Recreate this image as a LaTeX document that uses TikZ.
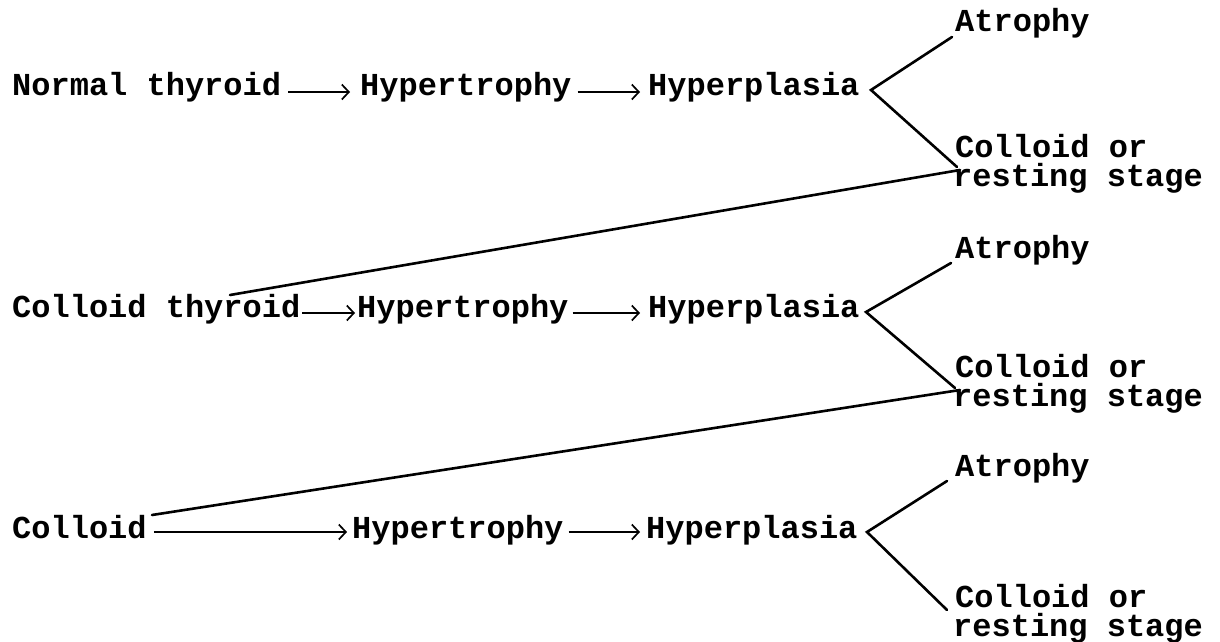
\documentclass[tikz,border=0pt]{standalone}
\usepackage{fontspec}
\setmonofont{Liberation Mono}
\usetikzlibrary{arrows.meta}
\begin{document}
\begin{tikzpicture}[x=1pt,y=-1pt,
  lbl/.style={font=\ttfamily\bfseries\fontsize{32}{26}\selectfont, inner sep=0pt, anchor=base west},
  flow/.style={line width=1.6pt, -{Straight Barb[length=7pt,width=15pt,line width=1.7pt]}},
  branch/.style={line width=2.6pt, line cap=round}]
\useasboundingbox (0,0) rectangle (1220,642);
% row 1
\node[lbl] (n1) at (12,95) {Normal thyroid};
\node[lbl] (h1) at (360,95) {Hypertrophy};
\node[lbl] (p1) at (648,95) {Hyperplasia};
\node[lbl] (at1) at (955,32) {Atrophy};
\node[lbl] (co1) at (955,157) {Colloid or};
\node[lbl] (rs1) at (953,186) {resting stage};
\coordinate (v1) at (871,90);
% row 2
\node[lbl] (n2) at (12,317) {Colloid thyroid};
\node[lbl] (h2) at (357,317) {Hypertrophy};
\node[lbl] (p2) at (648,317) {Hyperplasia};
\node[lbl] (at2) at (955,258) {Atrophy};
\node[lbl] (co2) at (955,377) {Colloid or};
\node[lbl] (rs2) at (953,406) {resting stage};
\coordinate (v2) at (866,312);
\coordinate (t2) at (230,295);
% row 3
\node[lbl] (n3) at (12,538) {Colloid};
\node[lbl] (h3) at (352,538) {Hypertrophy};
\node[lbl] (p3) at (646,538) {Hyperplasia};
\node[lbl] (at3) at (955,476) {Atrophy};
\node[lbl] (co3) at (955,607) {Colloid or};
\node[lbl] (rs3) at (953,636) {resting stage};
\coordinate (v3) at (867,532);
\coordinate (t3) at (152,515);
% flow arrows
\draw[flow] ([xshift=7pt,yshift=3pt]n1.base east) -- ([xshift=-10pt,yshift=3pt]h1.base west);
\draw[flow] ([xshift=6pt,yshift=3pt]h1.base east) -- ([xshift=-8pt,yshift=3pt]p1.base west);
\draw[flow] ([xshift=2pt,yshift=4pt]n2.base east) -- ([xshift=-2pt,yshift=4pt]h2.base west);
\draw[flow] ([xshift=4pt,yshift=4pt]h2.base east) -- ([xshift=-8pt,yshift=4pt]p2.base west);
\draw[flow] ([xshift=7pt,yshift=6pt]n3.base east) -- ([xshift=-5pt,yshift=6pt]h3.base west);
\draw[flow] ([xshift=5pt,yshift=6pt]h3.base east) -- ([xshift=-6pt,yshift=6pt]p3.base west);
% branches
\draw[branch] ([xshift=-3pt,yshift=-5pt]at1.base west) -- (v1) -- ([xshift=2pt,yshift=-10pt]co1.base west);
\draw[branch] ([xshift=-4pt,yshift=-5pt]at2.base west) -- (v2) -- ([xshift=0pt,yshift=-11pt]co2.base west);
\draw[branch] ([xshift=-8pt,yshift=-5pt]at3.base west) -- (v3) -- ([xshift=-8pt,yshift=-3pt]co3.base west);
% cross links
\draw[branch] ([xshift=5pt,yshift=-13pt]co1.base west) -- (t2);
\draw[branch] ([xshift=5pt,yshift=-13pt]co2.base west) -- (t3);
\end{tikzpicture}
\end{document}
